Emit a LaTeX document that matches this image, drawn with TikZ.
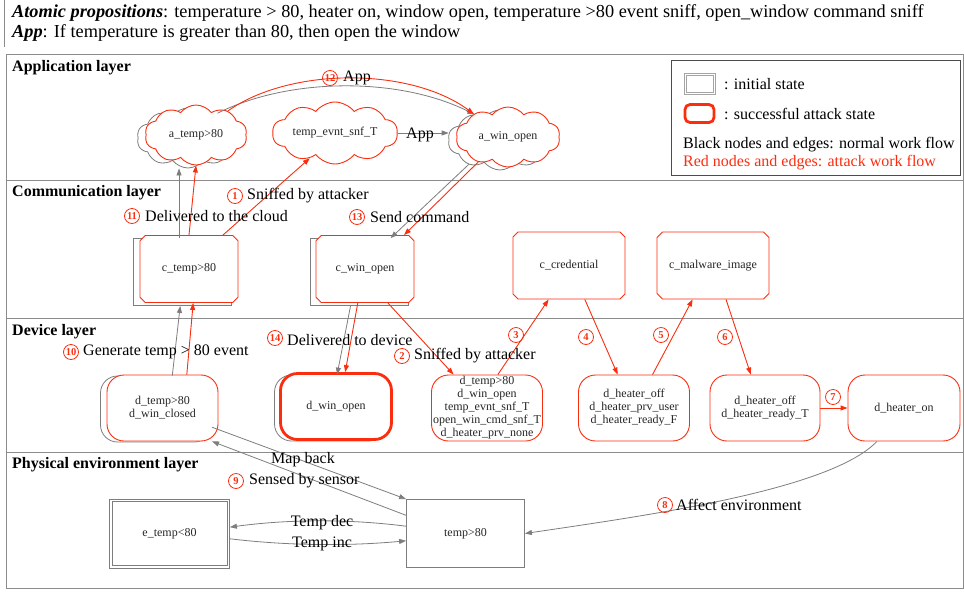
\documentclass[tikz,border=0pt]{standalone}
\usepackage{fontspec}
\setmainfont{Liberation Serif}
\usetikzlibrary{shapes.symbols,shapes.misc,arrows.meta}
\definecolor{atk}{RGB}{250,45,15}
\definecolor{flow}{RGB}{125,125,125}
\definecolor{rule}{RGB}{140,140,140}
\begin{document}
\begin{tikzpicture}[x=1pt,y=-1pt,
  every node/.style={inner sep=0pt},
  nodetext/.style={font=\fontsize{12}{13}\selectfont, text=black!85, align=center},
  lbl/.style={font=\fontsize{16}{16}\selectfont, anchor=west, text=black},
  hdrtext/.style={font=\fontsize{18.3}{18.3}\selectfont, anchor=west, text=black},
  layertitle/.style={font=\fontsize{16}{16}\selectfont\bfseries, anchor=west},
  numdot/.style={circle, draw=atk, text=atk, line width=0.8pt, minimum size=15pt,
    font=\fontsize{10.5}{10.5}\selectfont\bfseries},
  cloudbase/.style={cloud, cloud puffs=10, cloud puff arc=105, cloud ignores aspect, fill=white},
  redcloud/.style={cloudbase, draw=atk, line width=0.9pt, nodetext},
  graycloud/.style={cloudbase, draw=flow, line width=0.8pt},
  octbase/.style={chamfered rectangle, chamfered rectangle xsep=6pt, fill=white,
    minimum width=98pt, minimum height=67pt},
  redoct/.style={octbase, draw=atk, line width=0.9pt, nodetext},
  grayoct/.style={octbase, draw=flow, line width=0.8pt},
  devbase/.style={rectangle, rounded corners=17pt, fill=white, minimum width=111pt, minimum height=66pt},
  reddev/.style={devbase, draw=atk, line width=0.9pt, nodetext},
  graydev/.style={devbase, draw=flow, line width=0.8pt},
  envbox/.style={rectangle, draw=flow, line width=0.8pt, fill=white, nodetext, minimum height=68pt},
  gedge/.style={draw=flow, line width=0.8pt, -{Triangle[length=7pt,width=5pt]}},
  redge/.style={draw=atk, line width=0.9pt, -{Triangle[length=7pt,width=5pt]}}
]
\useasboundingbox (0,0) rectangle (964,592);

% header with the propositions and the app rule
\draw[rule, line width=0.8pt] (4,0) -- (4,47);
\node[hdrtext] (hdr1) at (12,13) {\textbf{\textit{Atomic propositions}}: temperature > 80, heater on, window open, temperature >80 event sniff, open\_window command sniff};
\node[hdrtext] (hdr2) at (12,33) {\textbf{\textit{App}}: If temperature is greater than 80, then open the window};

% frame and layer separators
\draw[rule, line width=0.9pt] (6,54) rectangle (963,588);
\draw[rule, line width=0.9pt] (6,180) -- (963,180);
\draw[rule, line width=0.9pt] (6,318) -- (963,318);
\draw[rule, line width=0.9pt] (6,452) -- (963,452);
\node[layertitle] (tapp) at (12,68) {Application layer};
\node[layertitle] (tcom) at (12,193) {Communication layer};
\node[layertitle] (tdev) at (12,332) {Device layer};
\node[layertitle] (tphy) at (12,465) {Physical environment layer};

% legend
\draw[black!70, line width=0.8pt] (671,60) rectangle (960,175);
\node[rectangle, draw=flow!70, line width=0.7pt, minimum width=31pt, minimum height=21pt] (leginit) at (699.5,83.5) {};
\draw[flow!70, line width=0.7pt] ([shift={(2.5,2.5)}]leginit.north west) rectangle ([shift={(-2.5,-2.5)}]leginit.south east);
\node[lbl] (leginittxt) at (724,84) {: initial state};
\node[rectangle, rounded corners=5pt, draw=atk, line width=2.8pt,
  minimum width=29pt, minimum height=18pt] (legatk) at (699.5,113.5) {};
\node[lbl] (legatktxt) at (724,114) {: successful attack state};
\node[lbl] (legblack) at (683,145) {Black nodes and edges: normal work flow};
\node[lbl, text=atk] (legred) at (683,163) {Red nodes and edges: attack work flow};

% application layer
\node[graycloud, minimum width=102pt, minimum height=60pt] (atempg) at (188,138) {};
\node[redcloud, minimum width=102pt, minimum height=60pt] (atemp) at (196,135) {\makebox[0pt]{a\_temp>80}};
\node[redcloud, minimum width=125pt, minimum height=62pt] (tevnt) at (335,133) {\makebox[0pt]{temp\_evnt\_snf\_T}};
\node[graycloud, minimum width=104pt, minimum height=60pt] (awing) at (500,140) {};
\node[redcloud, minimum width=104pt, minimum height=60pt] (awin) at (508,137) {\makebox[0pt]{a\_win\_open}};

% communication layer
\node[grayoct] (ctempg) at (182,272) {};
\node[redoct] (ctemp) at (189,269) {\makebox[0pt]{c\_temp>80}};
\node[grayoct] (cwing) at (359,272) {};
\node[redoct] (cwin) at (365,269) {\makebox[0pt]{c\_win\_open}};
\node[redoct, minimum width=112pt] (ccred) at (569,265.5) {\makebox[0pt]{c\_credential}};
\node[redoct, minimum width=112pt] (cmal) at (713,265.5) {\makebox[0pt]{c\_malware\_image}};

% device layer
\node[graydev] (dtcg) at (156,409) {};
\node[reddev] (dtc) at (162.5,408) {d\_temp>80\\d\_win\_closed};
\node[graydev] (dwog) at (330,408) {};
\node[reddev, line width=2.8pt] (dwo) at (336,406.5) {d\_win\_open};
\node[reddev] (dsn) at (487,408) {d\_temp>80\\d\_win\_open\\temp\_evnt\_snf\_T\\open\_win\_cmd\_snf\_T\\d\_heater\_prv\_none};
\node[reddev] (dhF) at (634,408) {d\_heater\_off\\d\_heater\_prv\_user\\d\_heater\_ready\_F};
\node[reddev, minimum width=110pt] (dhT) at (765,408) {d\_heater\_off\\d\_heater\_ready\_T};
\node[reddev, minimum width=112pt] (dhon) at (904,408) {d\_heater\_on};

% physical environment layer
\node[envbox, minimum width=120pt, minimum height=69pt] (etemp) at (169.5,533.5) {e\_temp<80};
\draw[flow, line width=0.7pt] ([shift={(3,3)}]etemp.north west) rectangle ([shift={(-3,-3)}]etemp.south east);
\node[envbox, minimum width=118pt] (t80) at (465.5,533.5) {temp>80};

% application-level transitions
\draw[gedge] (atempg.40) .. controls (290,77) and (400,77) .. (awing.135);
\draw[redge] (atemp.37) .. controls (290,67) and (410,67) .. (awin.146);
\draw[gedge] (tevnt.east) -- (tevnt.east -| awing.west);
\node[font=\fontsize{16}{16}\selectfont] (appmid) at (420,135) {App};
\node[numdot] (n12) at (330,78) {12};
\node[lbl] (l12) at (343,78) {App};

% cloud <-> communication
\draw[gedge] (ctempg.95) -- (ctempg.95 |- atempg.south);
\draw[redge] (ctemp.north) -- (atemp.south);
\draw[redge] (ctemp.45) -- (tevnt.225);
\draw[gedge] (awing.218) -- (cwing.47);
\draw[redge] (awin.220) -- (cwin.41);
\node[numdot] (n1) at (235,196) {1};
\node[lbl] (l1) at (247,196) {Sniffed by attacker};
\node[numdot] (n11) at (132,216) {11};
\node[lbl] (l11) at (145,216) {Delivered to the cloud};
\node[numdot] (n13) at (357,217) {13};
\node[lbl] (l13) at (370,217) {Send command};

% communication <-> device
\draw[gedge] (dtcg.64) -- (ctempg.267);
\draw[redge] (dtc.54) -- (ctemp.277);
\draw[gedge] (cwing.256) -- (dwog.78);
\draw[redge] (cwin.258) -- (dwo.75);
\draw[redge] (cwin.304) -- (dsn.135);
\draw[redge] (dsn.72) -- (ccred.239);
\draw[redge] (ccred.295) -- (dhF.116);
\draw[redge] (dhF.61) -- (cmal.239);
\draw[redge] (cmal.291) -- (dhT.113);
\draw[redge] (dhT.east) -- (dhon.west);
\node[numdot] (n10) at (71,352) {10};
\node[lbl] (l10) at (83,352) {Generate temp > 80 event};
\node[numdot] (n14) at (275,338) {14};
\node[lbl] (l14) at (287,340) {Delivered to device};
\node[numdot] (n2) at (402,356) {2};
\node[lbl] (l2) at (414,356) {Sniffed by attacker};
\node[numdot] (n3) at (516,335) {3};
\node[numdot] (n4) at (586,337) {4};
\node[numdot] (n5) at (661,335) {5};
\node[numdot] (n6) at (725,337) {6};
\node[numdot] (n7) at (833,397) {7};

% device <-> physical environment
\draw[gedge] (dtcg.342) -- (t80.north west);
\draw[gedge] (t80.163) -- (dtc.326);
\draw[gedge] (t80.173) .. controls (350,519) and (290,519) .. (etemp.6);
\draw[gedge] (etemp.355) .. controls (290,546) and (350,546) .. (t80.187);
\draw[gedge] (dhon.231) .. controls (830,490) and (650,515) .. (t80.east);
\node[font=\fontsize{16}{16}\selectfont] (lmap) at (303,460) {Map back};
\node[numdot] (n9) at (236,481) {9};
\node[lbl] (l9) at (249,481) {Sensed by sensor};
\node[font=\fontsize{16}{16}\selectfont] (ldec) at (322,523) {Temp dec};
\node[font=\fontsize{16}{16}\selectfont] (linc) at (322,544) {Temp inc};
\node[numdot] (n8) at (665,505) {8};
\node[lbl] (l8) at (676,505) {Affect environment};
\end{tikzpicture}
\end{document}
